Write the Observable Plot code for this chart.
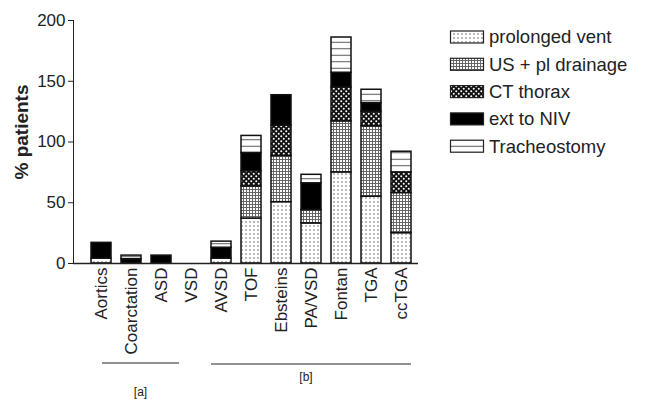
<!DOCTYPE html>
<html><head><meta charset="utf-8">
<script src="https://cdn.jsdelivr.net/npm/d3@7"></script>
<script src="https://cdn.jsdelivr.net/npm/@observablehq/plot@0.6"></script>
<style>body{margin:0;background:#fff;}</style>
</head><body><div id="chart"></div>
<script>
const categories = ["Aortics","Coarctation","ASD","VSD","AVSD","TOF","Ebsteins","PA/VSD","Fontan","TGA","ccTGA"];
const series = ["prolonged vent","US + pl drainage","CT thorax","ext to NIV","Tracheostomy"];
const prolongedVent = [4, 0, 0, 0, 4, 37, 50.5, 33, 75, 55, 25];
const usDrainage    = [0, 0, 0, 0, 0, 26.5, 38, 11, 42, 58, 33];
const ctThorax      = [0, 0, 0, 0, 0, 12.5, 25, 0, 28, 12, 17];
const extNIV        = [13, 3.5, 6.5, 0, 9, 15, 25, 22, 12, 7, 0];
const tracheostomy  = [0, 3, 0, 0, 5, 14, 0, 7, 29, 11, 17];
const yTicks = [0, 50, 100, 150, 200];
const yLabel = "% patients";
const groupLabels = ["[a]", "[b]"];
const groupFrom = ["Aortics", "AVSD"];
const groupTo = ["VSD", "ccTGA"];

const seriesValues = [prolongedVent, usDrainage, ctThorax, extNIV, tracheostomy];
const rows = [];
categories.forEach((c, i) => series.forEach((s, j) => {
  const v = seriesValues[j][i];
  if (v > 0) rows.push({category: c, series: s, value: v});
}));

const patternIds = ["pat-pv", "pat-us", "pat-ct", "pat-niv", "pat-tr"];
const font = "'Liberation Sans', Arial, Helvetica, sans-serif";

const plot = Plot.plot({
  width: 645, height: 399,
  marginLeft: 73, marginRight: 227, marginTop: 20, marginBottom: 136,
  style: {fontFamily: font, fontSize: "17px", color: "#222", background: "#fff", overflow: "visible"},
  x: {domain: categories, paddingInner: 0.32, paddingOuter: 0.26, align: 0.75, tickSize: 0, tickRotate: -90, tickPadding: 4, label: null},
  y: {domain: [0, 200], ticks: yTicks, tickSize: 5, tickPadding: 3, line: true, label: null},
  color: {type: "ordinal", domain: series, range: patternIds.map(id => `url(#${id})`)},
  marks: [
    Plot.barY(rows, {x: "category", y: "value", fill: "series", stroke: "#111", strokeWidth: 1.5}),
    Plot.ruleY([0], {stroke: "#222", strokeWidth: 1.5})
  ]
});

const svg = d3.select(plot);
const defs = svg.insert("defs", ":first-child");
function pat(id, w, h) {
  return defs.append("pattern").attr("id", id).attr("patternUnits", "userSpaceOnUse").attr("width", w).attr("height", h);
}
let p = pat("pat-pv", 4, 4);
p.append("rect").attr("width", 4).attr("height", 4).attr("fill", "#fff");
p.append("circle").attr("cx", 2).attr("cy", 2).attr("r", 0.7).attr("fill", "#444");
p = pat("pat-us", 3, 3);
p.append("rect").attr("width", 3).attr("height", 3).attr("fill", "#fff");
p.append("path").attr("d", "M0 0.5H3M0.5 0V3").attr("stroke", "#666").attr("stroke-width", 1);
p = pat("pat-ct", 5, 5);
p.append("rect").attr("width", 5).attr("height", 5).attr("fill", "#111");
p.append("circle").attr("cx", 1.25).attr("cy", 1.25).attr("r", 1).attr("fill", "#fff");
p.append("circle").attr("cx", 3.75).attr("cy", 3.75).attr("r", 1).attr("fill", "#fff");
p = pat("pat-niv", 4, 4);
p.append("rect").attr("width", 4).attr("height", 4).attr("fill", "#000");
p = pat("pat-tr", 6, 6.5);
p.append("rect").attr("width", 6).attr("height", 6.5).attr("fill", "#fff");
p.append("path").attr("d", "M0 3.25H6").attr("stroke", "#555").attr("stroke-width", 1);

// y axis label
svg.append("text").attr("transform", "translate(28,132) rotate(-90)")
  .attr("text-anchor", "middle").attr("font-family", font).attr("font-weight", "bold")
  .attr("font-size", 19).attr("fill", "#222").text(yLabel);

// group annotations
const xs = plot.scale("x");
const bw = xs.bandwidth;
const lineY = [363, 364];
const labelY = [396, 381];
groupLabels.forEach((g, i) => {
  const x1 = i === 0 ? xs.apply(groupFrom[i]) + bw * 0.55 : xs.apply(groupFrom[i]);
  const x2 = i === 0 ? xs.apply(groupTo[i]) - 2 : xs.apply(groupTo[i]) + bw;
  svg.append("line").attr("x1", x1).attr("x2", x2).attr("y1", lineY[i]).attr("y2", lineY[i])
    .attr("stroke", "#222").attr("stroke-width", 1.2);
  svg.append("text").attr("x", (x1 + x2) / 2 - (i === 1 ? 5 : 0)).attr("y", labelY[i]).attr("text-anchor", "middle")
    .attr("font-family", font).attr("font-size", 12).attr("fill", "#222").text(g);
});

// legend
const color = plot.scale("color");
const lg = svg.append("g").attr("font-family", font).attr("font-size", 18.5).attr("fill", "#222").attr("text-anchor", "start");
series.forEach((s, i) => {
  const cy = 37 + i * 27.3;
  lg.append("rect").attr("x", 450.5).attr("y", cy - 6).attr("width", 33).attr("height", 12)
    .attr("fill", color.apply(s)).attr("stroke", "#222").attr("stroke-width", 1.2);
  lg.append("text").attr("x", 489).attr("y", cy).attr("dy", "0.35em").attr("text-anchor", "start").text(s);
});

document.getElementById("chart").appendChild(plot);
</script>
</body></html>
